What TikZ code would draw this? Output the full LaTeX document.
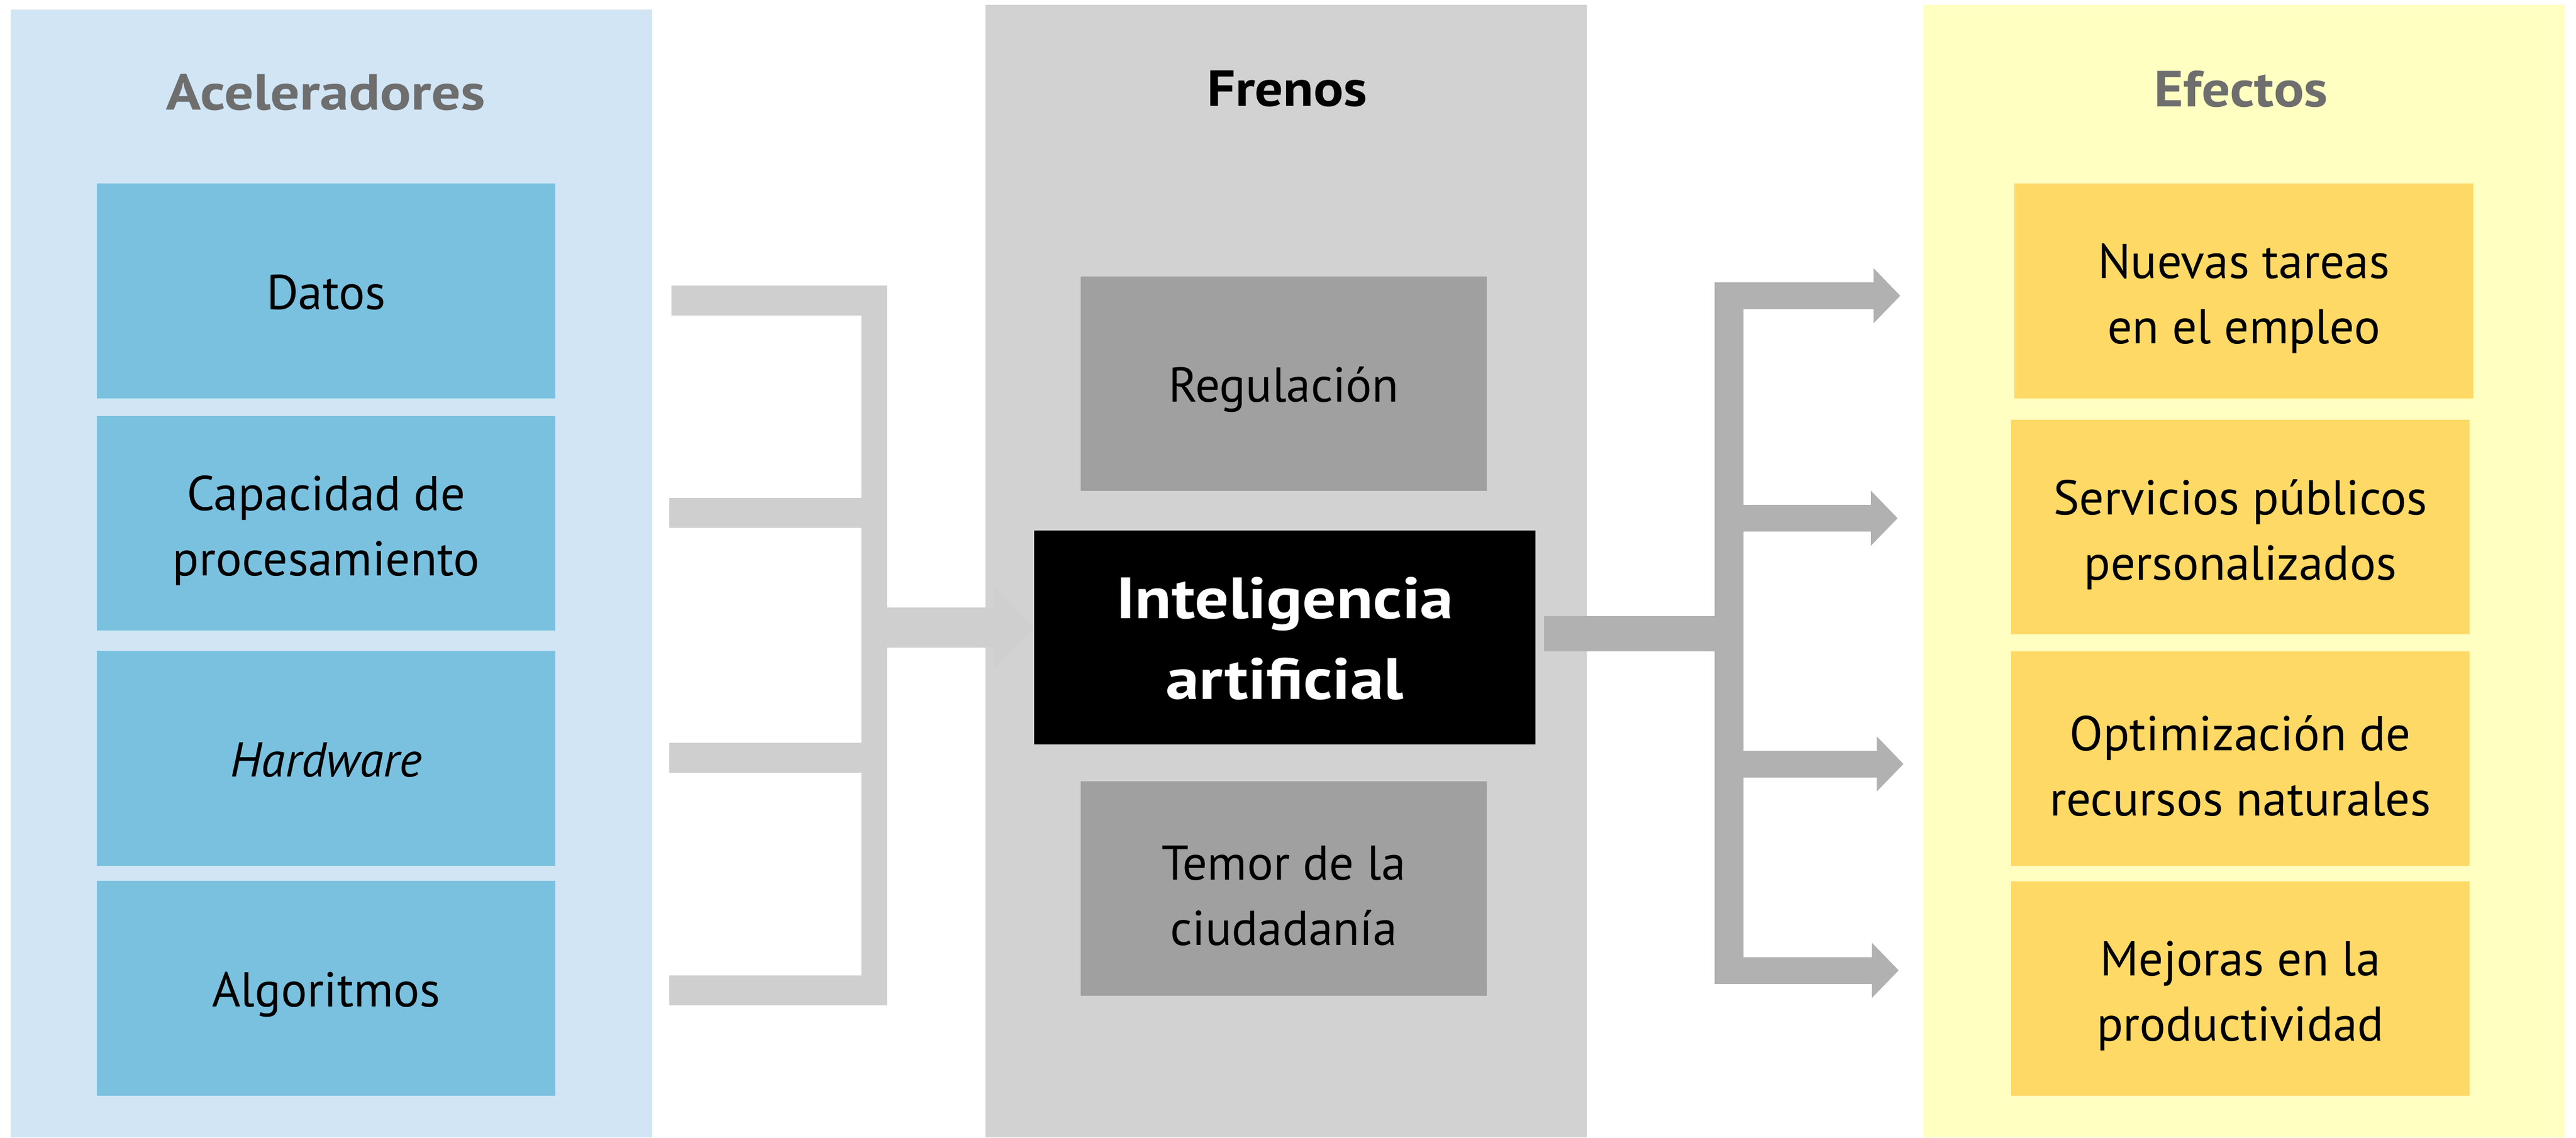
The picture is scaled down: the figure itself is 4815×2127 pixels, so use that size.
\documentclass[tikz,border=0pt]{standalone}
\usepackage{fontspec}
\setmainfont{PT Sans}
\usetikzlibrary{arrows.meta,calc}
\definecolor{accpanel}{HTML}{D1E5F5}
\definecolor{accfill}{HTML}{7AC1DF}
\definecolor{frpanel}{HTML}{D2D2D2}
\definecolor{frfill}{HTML}{A0A0A0}
\definecolor{efpanel}{HTML}{FFFFC1}
\definecolor{effill}{HTML}{FFD966}
\definecolor{titlegrey}{HTML}{6E6E6E}
\definecolor{lconncol}{HTML}{CFCFCF}
\definecolor{rconncol}{HTML}{B1B1B1}
\newcommand{\widen}[2]{\scalebox{#1}[1]{#2}}
\begin{document}
\begin{tikzpicture}[x=0.01cm,y=-0.01cm,
  boxtext/.style={inner sep=0pt, align=center, font=\fontsize{26}{34.7}\selectfont,
    execute at begin node={\rule{0pt}{0.98cm}},
    execute at end node={\rule[-0.30cm]{0pt}{0pt}}},
  twotext/.style={inner sep=0pt, align=center, font=\fontsize{26}{34.7}\selectfont, yshift=-0.14cm},
  accbox/.style={boxtext, fill=accfill, minimum width=8.57cm, minimum height=4.01cm},
  frbox/.style={boxtext, fill=frfill, minimum width=7.59cm, minimum height=4.01cm},
  iabox/.style={inner sep=0pt, fill=black, minimum width=9.37cm, minimum height=4.0cm},
  iatext/.style={inner sep=0pt, align=center, text=white, font=\fontsize{31}{43}\selectfont\bfseries, yshift=-0.02cm},
  efbox/.style={boxtext, fill=effill, minimum width=8.57cm, minimum height=4.01cm},
  paneltitle/.style={anchor=base, inner sep=0pt, font=\fontsize{27}{32}\selectfont\bfseries},
  lbar/.style={draw=lconncol, line width=0.56cm, line cap=butt},
  lvbar/.style={draw=lconncol, line width=0.48cm, line cap=butt},
  larrow/.style={draw=lconncol, fill=lconncol, line width=0.75cm, line cap=butt, -{Triangle[length=0.74cm,width=1.47cm]}},
  rshaft/.style={draw=rconncol, line width=0.66cm, line cap=butt},
  rvbar/.style={draw=rconncol, line width=0.54cm, line cap=butt},
  rarrow/.style={draw=rconncol, fill=rconncol, line width=0.5cm, line cap=butt, -{Triangle[length=0.5cm,width=1.0cm]}}
]
\useasboundingbox (0,0) rectangle (4815,2127);
\fill[white] (0,0) rectangle (4815,2127);

% panels
\fill[accpanel] (20,18) rectangle (1219,2127);
\fill[frpanel] (1842,9) rectangle (2966,2127);
\fill[efpanel] (3595,9) rectangle (4794,2127);

% titles
\node[paneltitle, text=titlegrey] (tacc) at (609,205) {\widen{1.14}{Aceleradores}};
\node[paneltitle, text=black] (tfr) at (2406,198) {\widen{1.1}{Frenos}};
\node[paneltitle, text=titlegrey] (tef) at (4189,199) {\widen{1.11}{Efectos}};

% accelerators
\node[accbox] (datos) at (609.5,544) {Datos};
\node[accbox, label={[twotext]center:{Capacidad de\\procesamiento}}] (capac) at (609.5,978.5) {};
\node[accbox] (hard) at (609.5,1418) {\itshape Hardware};
\node[accbox] (algo) at (609.5,1848) {Algoritmos};

% brakes and AI
\node[frbox] (regul) at (2399.5,717.5) {Regulación};
\node[iabox, label={[iatext]center:{\widen{1.15}{Inteligencia}\\\widen{1.15}{artificial}}}] (ia) at (2401.5,1192) {};
\node[frbox, label={[twotext]center:{Temor de la\\ciudadanía}}] (temor) at (2399.5,1661.5) {};

% effects
\node[efbox, label={[twotext]center:{Nuevas tareas\\en el empleo}}] (ef1) at (4194,544) {};
\node[efbox, label={[twotext]center:{Servicios públicos\\personalizados}}] (ef2) at (4187.5,985.5) {};
\node[efbox, label={[twotext]center:{Optimización de\\recursos naturales}}] (ef3) at (4187.5,1418.5) {};
\node[efbox, label={[twotext]center:{Mejoras en la\\productividad}}] (ef4) at (4187.5,1848.5) {};

% left connectors
\coordinate (l1s) at (1255,562);  \coordinate (l1e) at (1658,562);
\coordinate (l2s) at (1251,959);  \coordinate (l2e) at (1658,959);
\coordinate (l3s) at (1251,1417); \coordinate (l3e) at (1658,1417);
\coordinate (l4s) at (1251,1852); \coordinate (l4e) at (1658,1852);
\coordinate (lvt) at (1634,534);  \coordinate (lvb) at (1634,1880);
\coordinate (lmid) at (1658,1173.5);
\draw[lbar] (l1s) -- (l1e);
\draw[lbar] (l2s) -- (l2e);
\draw[lbar] (l3s) -- (l3e);
\draw[lbar] (l4s) -- (l4e);
\draw[lvbar] (lvt) -- (lvb);
\draw[larrow] (lmid) -- (lmid -| ia.west);

% right connectors
\coordinate (rmid) at (3259,1185);
\coordinate (rvt) at (3232,528); \coordinate (rvb) at (3232,1839);
\draw[rshaft] ($(ia.east |- rmid)+(15,0)$) -- (rmid);
\draw[rvbar] (rvt) -- (rvb);
\coordinate (r1s) at (3205,553);  \coordinate (r1e) at (3552,553);
\coordinate (r2s) at (3205,969);  \coordinate (r2e) at (3547,969);
\coordinate (r3s) at (3205,1428.5); \coordinate (r3e) at (3558,1428.5);
\coordinate (r4s) at (3205,1814.5); \coordinate (r4e) at (3549,1814.5);
\draw[rarrow] (r1s) -- (r1e);
\draw[rarrow] (r2s) -- (r2e);
\draw[rarrow] (r3s) -- (r3e);
\draw[rarrow] (r4s) -- (r4e);
\end{tikzpicture}
\end{document}
